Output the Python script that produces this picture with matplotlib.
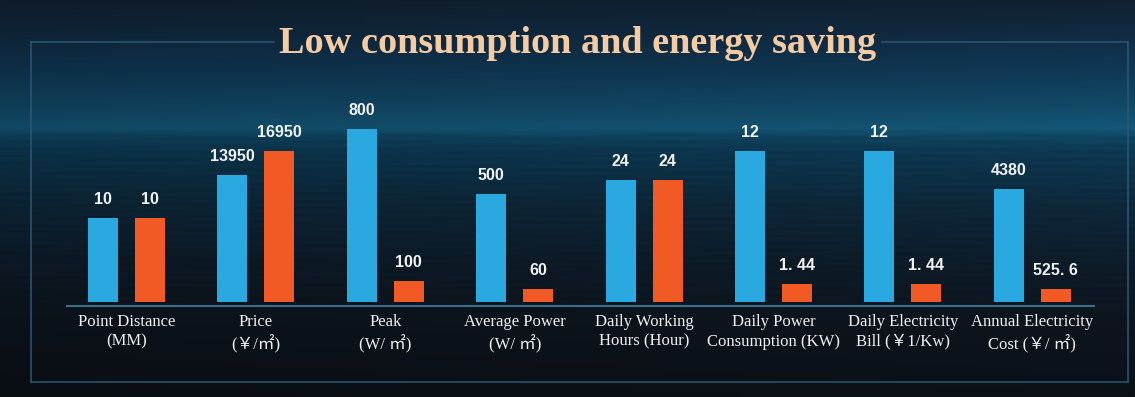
import numpy as np
import matplotlib
matplotlib.use('Agg')
import matplotlib.pyplot as plt

# chart content
categories = ['Point Distance\n(MM)', 'Price\n(￥/㎡)', 'Peak\n(W/ ㎡)', 'Average Power\n(W/ ㎡)',
              'Daily Working\nHours (Hour)', 'Daily Power\nConsumption (KW)',
              'Daily Electricity\nBill (￥1/Kw)', 'Annual Electricity\nCost (￥/ ㎡)']
blue_labels = ['10', '13950', '800', '500', '24', '12', '12', '4380']
orange_labels = ['10', '16950', '100', '60', '24', '1. 44', '1. 44', '525. 6']
# bar heights as drawn in the picture (the bars are not to scale with the labels)
blue_heights = [84, 127, 173, 108, 122, 151, 151, 113]
orange_heights = [84, 151, 21, 13, 122, 18, 18, 13]
title = 'Low consumption and energy saving'

W, H = 1135, 397
fig = plt.figure(figsize=(W / 100, H / 100), dpi=100)

# background: dark sea with a bright horizon
bg = fig.add_axes([0, 0, 1, 1])
ys = np.arange(H)
stops_y = [0, 30, 70, 105, 128, 136, 150, 200, 260, 330, 397]
stops_c = np.array([
    [0x10, 0x1f, 0x2e], [0x10, 0x27, 0x3c], [0x0f, 0x35, 0x50], [0x11, 0x45, 0x62],
    [0x13, 0x52, 0x70], [0x0e, 0x42, 0x5c], [0x0c, 0x36, 0x4e], [0x0d, 0x27, 0x39],
    [0x0d, 0x1b, 0x27], [0x0c, 0x13, 0x1b], [0x0b, 0x10, 0x16]]) / 255.0
col = np.stack([np.interp(ys, stops_y, stops_c[:, k]) for k in range(3)], axis=1)
xs = np.linspace(0, 1, W)
side = 0.88 + 0.18 * xs  # slightly brighter to the right
img = col[:, None, :] * side[None, :, None]
streak = 1 + 0.06 * np.sin(ys * 0.9)[:, None] * np.sin(xs * 23 + ys[:, None] * 0.07)
sea = ((ys > 132) & (ys < 300))[:, None]
img = np.where(sea[:, :, None], img * streak[:, :, None], img)
bg.imshow(np.clip(img, 0, 1), extent=[0, W, H, 0], aspect='auto', interpolation='bilinear')
bg.set_xlim(0, W)
bg.set_ylim(H, 0)
bg.axis('off')

# frame around the chart, broken behind the title
frame_c = '#2b5876'
bg.plot([31, 274], [42, 42], color=frame_c, lw=1.1)
bg.plot([882, 1128], [42, 42], color=frame_c, lw=1.1)
bg.plot([31, 31], [42, 382], color=frame_c, lw=1.1)
bg.plot([1128, 1128], [42, 382], color=frame_c, lw=1.1)
bg.plot([31, 1128], [382, 382], color=frame_c, lw=1.1)

fig.text(578 / W, 1 - 53 / H, title, ha='center', va='baseline', fontsize=27.5,
         fontweight='bold', family=['Liberation Serif', 'DejaVu Serif'], color='#F4CBA3')

# bar chart
ax = fig.add_axes([67 / W, 1 - 302.3 / H, (1094 - 67) / W, 202.3 / H])
ax.patch.set_alpha(0)
x = np.arange(len(categories))
bw = 0.232
off = 0.1816
blue = '#2AA9E0'
orange = '#F15A24'
ax.bar(x - off, blue_heights, bw, color=blue)
ax.bar(x + off, orange_heights, bw, color=orange)
for i in range(len(categories)):
    ax.text(x[i] - off, blue_heights[i] + 14, blue_labels[i], ha='center', va='baseline',
            fontsize=11.5, fontweight='bold', family=['Liberation Sans'], color='#F2F2F2')
    ax.text(x[i] + off, orange_heights[i] + 14, orange_labels[i], ha='center', va='baseline',
            fontsize=11.5, fontweight='bold', family=['Liberation Sans'], color='#F2F2F2')
ax.set_xlim((67 - 126.5) / 129.4, (1094 - 126.5) / 129.4)
ax.set_ylim(0, 202.3)
for s in ['top', 'right', 'left']:
    ax.spines[s].set_visible(False)
ax.spines['bottom'].set_position(('outward', 2.5))
ax.spines['bottom'].set_color('#3c6d8b')
ax.spines['bottom'].set_linewidth(1.5)
ax.set_yticks([])
ax.set_xticks(x)
ax.set_xticklabels(categories, family=['Liberation Serif', 'Noto Sans CJK SC'], fontsize=12,
                   color='#F0F0F0', linespacing=1.3)
ax.tick_params(axis='x', length=0, pad=6)

fig.savefig('out.png', dpi=100)
